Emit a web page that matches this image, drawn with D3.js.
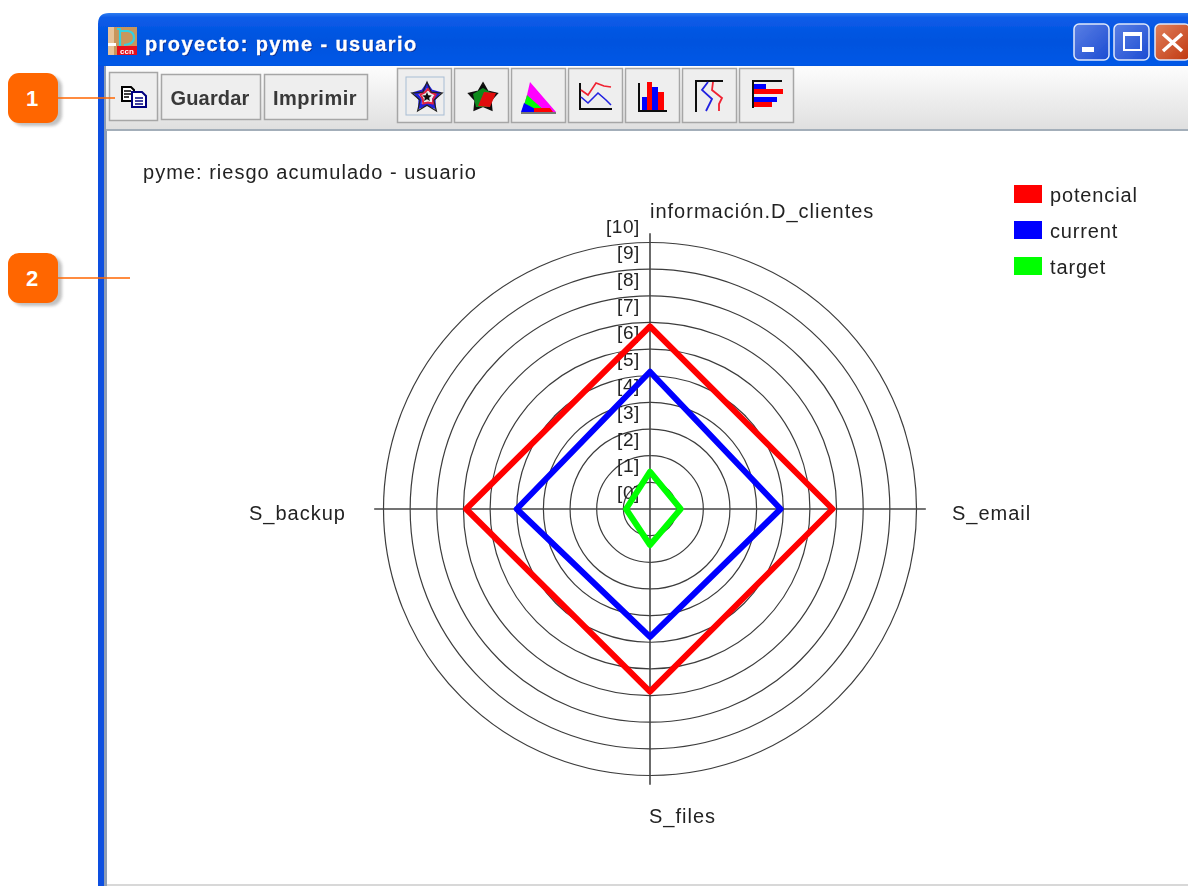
<!DOCTYPE html>
<html lang="en">
<head>
<meta charset="UTF-8">
<title>proyecto: pyme - usuario</title>
<script src="https://d3js.org/d3.v7.min.js"></script>
<style>
html, body { margin: 0; padding: 0; background: #fff; overflow: hidden; }
svg { display: block; }
text { font-family: "Liberation Sans", Arial, sans-serif; }
</style>
</head>
<body>
<div id="chart"></div>
<script>
// values
var axes = ["información.D_clientes", "S_email", "S_files", "S_backup"];
var potencial = [6.85, 6.85, 6.85, 6.9];
var current = [5.15, 4.9, 4.8, 5.0];
var target = [1.4, 1.15, 1.35, 0.9];
var seriesNames = ["potencial", "current", "target"];
var seriesColors = ["#ff0000", "#0000ff", "#00ff00"];
var ringTicks = [0, 1, 2, 3, 4, 5, 6, 7, 8, 9, 10];
var toolbarLabels = ["Guardar", "Imprimir"];

var svg = d3.select("#chart").append("svg")
  .attr("width", 1188)
  .attr("height", 886);

var defs = svg.append("defs");
var soft = defs.append("filter").attr("id", "soft");
soft.append("feGaussianBlur").attr("stdDeviation", 0.5);
var shadow = defs.append("filter").attr("id", "shadow");
shadow.append("feGaussianBlur").attr("stdDeviation", 1.5);

var titleGrad = defs.append("linearGradient").attr("id", "titleGrad").attr("x2", 0).attr("y2", 1);
titleGrad.append("stop").attr("offset", "0").attr("stop-color", "#2f7cf0");
titleGrad.append("stop").attr("offset", "0.08").attr("stop-color", "#0a5ce8");
titleGrad.append("stop").attr("offset", "0.5").attr("stop-color", "#0052de");
titleGrad.append("stop").attr("offset", "0.9").attr("stop-color", "#0258e6");
titleGrad.append("stop").attr("offset", "1").attr("stop-color", "#0048d0");
var toolGrad = defs.append("linearGradient").attr("id", "toolGrad").attr("x2", 0).attr("y2", 1);
toolGrad.append("stop").attr("offset", "0").attr("stop-color", "#fdfdfd");
toolGrad.append("stop").attr("offset", "1").attr("stop-color", "#dfdfdf");
var blueBtn = defs.append("linearGradient").attr("id", "blueBtn").attr("x2", 1).attr("y2", 1);
blueBtn.append("stop").attr("offset", "0").attr("stop-color", "#5a7fe4");
blueBtn.append("stop").attr("offset", "1").attr("stop-color", "#1c4cd2");
var redBtn = defs.append("linearGradient").attr("id", "redBtn").attr("x2", 1).attr("y2", 1);
redBtn.append("stop").attr("offset", "0").attr("stop-color", "#e0805c");
redBtn.append("stop").attr("offset", "1").attr("stop-color", "#c03810");

// ---- window frame
var win = svg.append("g").attr("filter", "url(#soft)");
win.append("path")
  .attr("d", "M98 70 V24 Q98 13 109 13 H1188 V66 H106 V70 Z")
  .attr("fill", "url(#titleGrad)");
win.append("rect").attr("x", 98).attr("y", 66).attr("width", 6).attr("height", 820).attr("fill", "#0a4fe0");
win.append("rect").attr("x", 104).attr("y", 66).attr("width", 3).attr("height", 820).attr("fill", "#8d9db5");
win.append("rect").attr("x", 106).attr("y", 66).attr("width", 1082).attr("height", 64).attr("fill", "url(#toolGrad)");
win.append("rect").attr("x", 106).attr("y", 129).attr("width", 1082).attr("height", 2).attr("fill", "#a3aeb9");
win.append("rect").attr("x", 107).attr("y", 884).attr("width", 1081).attr("height", 2).attr("fill", "#d8d8d8");

// title bar icon
var ico = win.append("g");
ico.append("rect").attr("x", 108).attr("y", 27).attr("width", 29).attr("height", 28).attr("fill", "#c9965c");
ico.append("rect").attr("x", 108).attr("y", 27).attr("width", 6).attr("height", 28).attr("fill", "#e8c49a");
ico.append("rect").attr("x", 108).attr("y", 43).attr("width", 8).attr("height", 3).attr("fill", "#fff");
ico.append("rect").attr("x", 117).attr("y", 46).attr("width", 20).attr("height", 9).attr("fill", "#e8101c");
ico.append("path").attr("d", "M120 29 V46 M117 29 H121 M120 31 H128 Q134 32 134 38 Q134 44 124 45")
  .attr("fill", "none").attr("stroke", "#35d0e0").attr("stroke-width", 2.2);
ico.append("text").attr("x", 127).attr("y", 54).attr("text-anchor", "middle")
  .attr("font-size", 8).attr("font-weight", "bold").attr("fill", "#fff").text("ccn");

win.append("text").attr("x", 145).attr("y", 51)
  .attr("font-size", 20).attr("font-weight", "bold").attr("letter-spacing", 1.4)
  .attr("fill", "#0a2a90").attr("transform", "translate(1,1)").text("proyecto: pyme - usuario");
win.append("text").attr("x", 145).attr("y", 51)
  .attr("font-size", 20).attr("font-weight", "bold").attr("letter-spacing", 1.4)
  .attr("fill", "#fff").attr("stroke", "#fff").attr("stroke-width", 0.3).text("proyecto: pyme - usuario");

// window buttons
[[1074, "url(#blueBtn)"], [1114, "url(#blueBtn)"], [1155, "url(#redBtn)"]].forEach(function (b) {
  win.append("rect").attr("x", b[0]).attr("y", 24).attr("width", 35).attr("height", 36)
    .attr("rx", 5).attr("fill", b[1]).attr("stroke", "#dfe8fa").attr("stroke-width", 1.5);
});
win.append("rect").attr("x", 1082).attr("y", 47).attr("width", 12).attr("height", 5).attr("fill", "#fff");
win.append("rect").attr("x", 1124).attr("y", 33).attr("width", 17).attr("height", 17)
  .attr("fill", "none").attr("stroke", "#fff").attr("stroke-width", 2);
win.append("rect").attr("x", 1123).attr("y", 32).attr("width", 19).attr("height", 4).attr("fill", "#fff");
win.append("path").attr("d", "M1163 34 L1182 51 M1182 34 L1163 51").attr("stroke", "#fff").attr("stroke-width", 3.5);

// ---- toolbar buttons
function toolButton(x, w, y, h) {
  win.append("rect").attr("x", x + 0.5).attr("y", y + 0.5).attr("width", w).attr("height", h)
    .attr("fill", "#eeeeee").attr("stroke", "#a6a6a6").attr("stroke-width", 1.5);
}
toolButton(109, 48, 72, 48);
toolButton(161, 99, 74, 45);
toolButton(264, 103, 74, 45);
win.append("text").attr("x", 210).attr("y", 105).attr("text-anchor", "middle")
  .attr("font-size", 20).attr("font-weight", "bold").attr("letter-spacing", 0.2).attr("fill", "#383838").text(toolbarLabels[0]);
win.append("text").attr("x", 315).attr("y", 105).attr("text-anchor", "middle")
  .attr("font-size", 20).attr("font-weight", "bold").attr("letter-spacing", 0.5).attr("fill", "#383838").text(toolbarLabels[1]);

// copy icon
var cp = win.append("g");
cp.append("path").attr("d", "M122 87 H131 L134 90 V101 H122 Z").attr("fill", "#fff").attr("stroke", "#000").attr("stroke-width", 2);
cp.append("path").attr("d", "M124 91 H131 M124 94 H131 M124 97 H129").attr("stroke", "#000").attr("stroke-width", 1.4);
cp.append("path").attr("d", "M132 92 H142 L146 96 V107 H132 Z").attr("fill", "#fff").attr("stroke", "#000080").attr("stroke-width", 2);
cp.append("path").attr("d", "M135 98 H143 M135 101 H143 M135 104 H143").attr("stroke", "#000080").attr("stroke-width", 1.4);

var iconX = [397, 454, 511, 568, 625, 682, 739];
iconX.forEach(function (x) { toolButton(x, 54, 68, 54); });
win.append("rect").attr("x", 406).attr("y", 77).attr("width", 38).attr("height", 38)
  .attr("fill", "none").attr("stroke", "#a8bdd4").attr("stroke-width", 1);

function star(cx, cy, r, k) {
  return d3.range(10).map(function (i) {
    var a = i * Math.PI / 5, q = i % 2 ? r * k : r;
    return [cx + q * Math.sin(a), cy - q * Math.cos(a)];
  });
}
var starLine = d3.line().curve(d3.curveLinearClosed);
var ic = win.append("g");
ic.append("path").attr("d", starLine(star(427, 97, 12, 0.6))).attr("fill", "none").attr("stroke", "#2020e0").attr("stroke-width", 3.5);
ic.append("path").attr("d", starLine(star(428, 97, 8, 0.7))).attr("fill", "none").attr("stroke", "#e02040").attr("stroke-width", 2);
ic.append("path").attr("d", starLine(star(427, 98, 16, 0.45))).attr("fill", "none").attr("stroke", "#222").attr("stroke-width", 1.2);
ic.append("path").attr("d", starLine(star(427, 97, 5, 0.45))).attr("fill", "#111");

ic.append("path").attr("d", starLine(star(483, 98, 15, 0.55))).attr("fill", "#111").attr("stroke", "#111").attr("stroke-width", 1.5);
ic.append("path").attr("d", "M483 88 L493 94 L489 107 L476 107 L473 94 Z").attr("fill", "#0a8a1e");
ic.append("path").attr("d", "M484 92 L496 93 L490 107 L478 106 Z").attr("fill", "#e01010");

ic.append("path").attr("d", "M530 82 L556 112 H522 L527 95 Z").attr("fill", "#ff00ff");
ic.append("path").attr("d", "M527 95 L546 112 H522 Z").attr("fill", "#00ff00");
ic.append("path").attr("d", "M524 103 L541 112 H521 Z").attr("fill", "#0000ff");
ic.append("path").attr("d", "M534 108 H550 L553 112 H534 Z").attr("fill", "#ff0000");
ic.append("rect").attr("x", 521).attr("y", 112).attr("width", 35).attr("height", 2).attr("fill", "#777");

ic.append("path").attr("d", "M580 83 V109 H612").attr("fill", "none").attr("stroke", "#111").attr("stroke-width", 2);
ic.append("path").attr("d", "M581 90 L588 95 L596 83 L604 86 L611 87").attr("fill", "none").attr("stroke", "#f02030").attr("stroke-width", 1.6);
ic.append("path").attr("d", "M581 97 L588 103 L598 93 L606 100 L611 105").attr("fill", "none").attr("stroke", "#2020e0").attr("stroke-width", 1.6);

ic.append("path").attr("d", "M639 83 V111 H667").attr("fill", "none").attr("stroke", "#111").attr("stroke-width", 2);
ic.append("rect").attr("x", 642).attr("y", 97).attr("width", 5).attr("height", 13).attr("fill", "#0000ff");
ic.append("rect").attr("x", 647).attr("y", 82).attr("width", 5).attr("height", 28).attr("fill", "#ff0000");
ic.append("rect").attr("x", 652).attr("y", 87).attr("width", 6).attr("height", 23).attr("fill", "#0000ff");
ic.append("rect").attr("x", 658).attr("y", 92).attr("width", 6).attr("height", 18).attr("fill", "#ff0000");

ic.append("path").attr("d", "M696 112 V81 H723").attr("fill", "none").attr("stroke", "#111").attr("stroke-width", 2);
ic.append("path").attr("d", "M708 82 L702 90 L712 99 L706 111").attr("fill", "none").attr("stroke", "#2020e0").attr("stroke-width", 1.8);
ic.append("path").attr("d", "M713 82 L712 90 L722 98 L719 104 L719 111").attr("fill", "none").attr("stroke", "#f02030").attr("stroke-width", 1.8);

ic.append("path").attr("d", "M753 108 V81 H782").attr("fill", "none").attr("stroke", "#111").attr("stroke-width", 2);
ic.append("rect").attr("x", 754).attr("y", 84).attr("width", 12).attr("height", 5).attr("fill", "#0000ff");
ic.append("rect").attr("x", 754).attr("y", 89).attr("width", 29).attr("height", 5).attr("fill", "#ff0000");
ic.append("rect").attr("x", 754).attr("y", 97).attr("width", 23).attr("height", 5).attr("fill", "#0000ff");
ic.append("rect").attr("x", 754).attr("y", 102).attr("width", 18).attr("height", 5).attr("fill", "#ff0000");

// ---- radar chart
var cx = 650, cy = 509;
var r = d3.scaleLinear().domain([0, 10]).range([0, 266.5]);
var angle = d3.scalePoint().domain(axes).range([0, 1.5 * Math.PI]);

var chart = svg.append("g").attr("filter", "url(#soft)");
var plot = chart.append("g").attr("transform", "translate(" + cx + "," + cy + ")");

plot.selectAll("circle.ring").data(ringTicks.filter(function (d) { return d > 0; }))
  .enter().append("circle").attr("class", "ring")
  .attr("r", function (d) { return r(d); })
  .attr("fill", "none").attr("stroke", "#3c3c3c").attr("stroke-width", 1.2);

plot.selectAll("line.spoke").data(axes).enter().append("line")
  .attr("class", "spoke")
  .attr("x2", function (d) { return r(10.35) * Math.sin(angle(d)); })
  .attr("y2", function (d) { return -r(10.35) * Math.cos(angle(d)); })
  .attr("stroke", "#444").attr("stroke-width", 1.6);

plot.selectAll("text.tick").data(ringTicks).enter().append("text")
  .attr("class", "tick")
  .attr("x", -10)
  .attr("y", function (d) { return -r(d) - 10; })
  .attr("text-anchor", "end")
  .attr("font-size", 19).attr("letter-spacing", 0.6).attr("fill", "#222")
  .text(function (d) { return "[" + d + "]"; });

var radarLine = d3.lineRadial()
  .angle(function (d, i) { return angle(axes[i]); })
  .radius(function (d) { return r(d); })
  .curve(d3.curveLinearClosed);

[potencial, current, target].forEach(function (values, i) {
  plot.append("path")
    .attr("d", radarLine(values))
    .attr("fill", "none")
    .attr("stroke", seriesColors[i])
    .attr("stroke-width", 6)
    .attr("stroke-linejoin", "round");
});

// axis names
var labelPos = [[650, 218, "start"], [952, 520, "start"], [649, 823, "start"], [346, 520, "end"]];
axes.forEach(function (a, i) {
  chart.append("text").attr("x", labelPos[i][0]).attr("y", labelPos[i][1])
    .attr("text-anchor", labelPos[i][2])
    .attr("font-size", 20).attr("letter-spacing", 1).attr("fill", "#222").text(a);
});

chart.append("text").attr("x", 143).attr("y", 179)
  .attr("font-size", 20).attr("letter-spacing", 1.02).attr("fill", "#222")
  .text("pyme: riesgo acumulado - usuario");

// legend
var legendY = d3.scalePoint().domain(seriesNames).range([194, 266]);
var legend = chart.selectAll("g.legend").data(seriesNames).enter().append("g")
  .attr("class", "legend")
  .attr("transform", function (d) { return "translate(1014," + legendY(d) + ")"; });
legend.append("rect").attr("y", -9).attr("width", 28).attr("height", 18)
  .attr("fill", function (d, i) { return seriesColors[i]; });
legend.append("text").attr("x", 36).attr("y", 8)
  .attr("font-size", 20).attr("letter-spacing", 0.85).attr("fill", "#222")
  .text(function (d) { return d; });

// ---- numbered callouts
var callouts = [
  { n: "1", y: 98, x2: 115 },
  { n: "2", y: 278, x2: 130 }
];
callouts.forEach(function (c) {
  svg.append("rect").attr("x", 12).attr("y", c.y - 22).attr("width", 50).attr("height", 50).attr("rx", 11)
    .attr("fill", "#999").attr("opacity", 0.6).attr("filter", "url(#shadow)");
  svg.append("line").attr("x1", 55).attr("x2", c.x2).attr("y1", c.y).attr("y2", c.y)
    .attr("stroke", "#ff6600").attr("stroke-width", 1.5);
  svg.append("rect").attr("x", 8).attr("y", c.y - 25).attr("width", 50).attr("height", 50).attr("rx", 11)
    .attr("fill", "#ff6600");
  svg.append("text").attr("x", 32).attr("y", c.y + 8).attr("text-anchor", "middle")
    .attr("font-size", 22).attr("font-weight", "bold").attr("fill", "#fff").text(c.n);
});
</script>
</body>
</html>
